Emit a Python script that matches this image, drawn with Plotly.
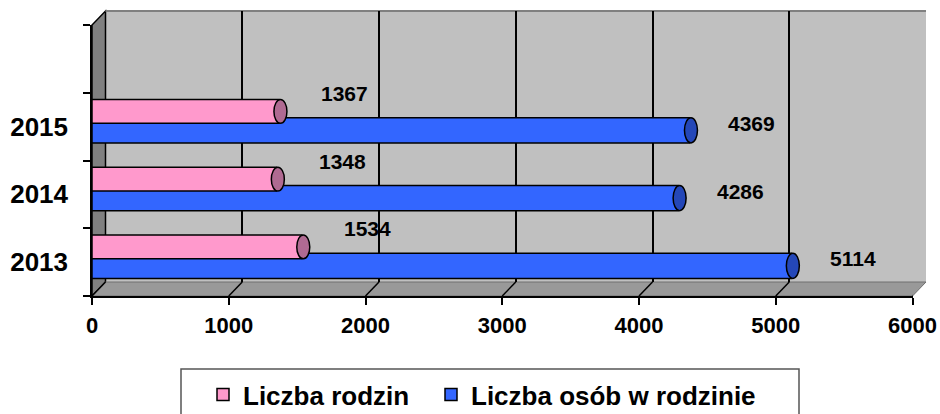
import plotly.graph_objects as go

# ---- data ----
years = ["2013", "2014", "2015"]
rodziny = [1534, 1348, 1367]          # Liczba rodzin (pink)
osoby = [5114, 4286, 4369]            # Liczba osób w rodzinie (blue)
x_ticks = [0, 1000, 2000, 3000, 4000, 5000, 6000]
series_names = ["Liczba rodzin", "Liczba osób w rodzinie"]

# ---- styling / geometry ----
FONT = "Liberation Sans, Arial, sans-serif"
PINK, PINK_CAP = "#FF99CC", "#B06A92"
BLUE, BLUE_CAP = "#3366FF", "#2447B8"
WALL, SIDE, FLOOR = "#C0C0C0", "#808080", "#999999"

ML, MR, MT, MB = 92, 14, 11, 118
W, H = 940, 414
PW, PH = W - ML - MR, H - MT - MB
DX, DY = 13.5, 14.0
fx, fy = DX / PW, DY / PH

ypos = list(range(len(years)))
BLUE_OFF, BLUE_W = -0.24, 0.37
PINK_OFF, PINK_W = 0.05, 0.35

fig = go.Figure()

# dummy trace so the back-wall subplot exists
fig.add_trace(go.Scatter(x=[None], y=[None], xaxis="x", yaxis="y",
                         showlegend=False, hoverinfo="skip"))

fig.add_trace(go.Bar(
    y=ypos, x=osoby, orientation="h", name=series_names[1],
    xaxis="x2", yaxis="y2", offset=BLUE_OFF, width=BLUE_W,
    marker=dict(color=BLUE, line=dict(color="black", width=1.5)),
    legend="legend2",
))
fig.add_trace(go.Bar(
    y=ypos, x=rodziny, orientation="h", name=series_names[0],
    xaxis="x2", yaxis="y2", offset=PINK_OFF, width=PINK_W,
    marker=dict(color=PINK, line=dict(color="black", width=1.5)),
    legend="legend",
))

shapes = []
# walls (paper coords)
shapes.append(dict(type="rect", xref="paper", yref="paper", x0=fx, x1=1, y0=fy, y1=1,
                   fillcolor=WALL, line=dict(width=0), layer="below"))
shapes.append(dict(type="path", xref="paper", yref="paper",
                   path=f"M0,0 L{fx},{fy} L{fx},1 L0,{1-fy} Z",
                   fillcolor=SIDE, line=dict(color="black", width=1.5), layer="below"))
shapes.append(dict(type="path", xref="paper", yref="paper",
                   path=f"M0,0 L{1-fx},0 L1,{fy} L{fx},{fy} Z",
                   fillcolor=FLOOR, line=dict(color="#707070", width=1), layer="below"))
# back wall top edge
shapes.append(dict(type="line", xref="paper", yref="paper", x0=fx, x1=1, y0=1, y1=1,
                   line=dict(color="#808080", width=2), layer="below"))
# legend frame
LEG_L, LEG_R, LEG_T = 181, 799, 369
shapes.append(dict(type="rect", xref="paper", yref="paper",
                   x0=(LEG_L - ML) / PW, x1=(LEG_R - ML) / PW,
                   y0=-(H + 10 - (MT + PH)) / PH, y1=-(LEG_T - (MT + PH)) / PH,
                   fillcolor="white", line=dict(color="#555555", width=1.5), layer="below"))
# floor diagonals at each tick
for v in x_ticks:
    shapes.append(dict(type="line", xref="x2", yref="paper", xsizemode="pixel",
                       ysizemode="pixel", xanchor=v, yanchor=0, x0=0, x1=DX, y0=0, y1=DY,
                       line=dict(color="black", width=1.5)))
# cylinder caps
for i in ypos:
    shapes.append(dict(type="circle", xref="x2", yref="y2", xsizemode="pixel",
                       xanchor=osoby[i], x0=-5, x1=8,
                       y0=i + BLUE_OFF, y1=i + BLUE_OFF + BLUE_W,
                       fillcolor=BLUE_CAP, line=dict(color="black", width=1.5)))
for i in ypos:
    shapes.append(dict(type="circle", xref="x2", yref="y2", xsizemode="pixel",
                       xanchor=rodziny[i], x0=-5, x1=8,
                       y0=i + PINK_OFF, y1=i + PINK_OFF + PINK_W,
                       fillcolor=PINK_CAP, line=dict(color="black", width=1.5)))

annotations = []
lab_font = dict(family=FONT, size=21, color="black", weight="bold")
for i in ypos:
    annotations.append(dict(x=rodziny[i], y=i + PINK_OFF + PINK_W / 2, xref="x2", yref="y2",
                            text=str(rodziny[i]), showarrow=False, xanchor="center",
                            xshift=66, yshift=18, font=lab_font))
    annotations.append(dict(x=osoby[i], y=i + BLUE_OFF + BLUE_W / 2, xref="x2", yref="y2",
                            text=str(osoby[i]), showarrow=False, xanchor="center",
                            xshift=62, yshift=7, font=lab_font))

leg_font = dict(family=FONT, size=26, color="black", weight="bold")
leg_y = -(371 - (MT + PH)) / PH

fig.update_layout(
    width=W, height=H,
    margin=dict(l=ML, r=MR, t=MT, b=MB, pad=0, autoexpand=False),
    paper_bgcolor="white", plot_bgcolor="rgba(0,0,0,0)",
    barmode="overlay",
    font=dict(family=FONT, color="black"),
    xaxis=dict(domain=[fx, 1], anchor="y", range=[0, 6000], tickvals=x_ticks,
               showgrid=True, gridcolor="black", gridwidth=1.5, zeroline=False,
               showticklabels=False, ticks="", showline=False, automargin=False),
    yaxis=dict(domain=[fy, 1], anchor="x", range=[0, 1], showgrid=False,
               zeroline=False, showticklabels=False, ticks="", showline=False,
               automargin=False),
    xaxis2=dict(domain=[0, 1 - fx], anchor="y2", range=[0, 6000], tickvals=x_ticks,
                showgrid=False, zeroline=False, showline=True, linecolor="black",
                linewidth=1.5, ticks="outside", ticklen=7, tickcolor="black",
                tickwidth=1.5, ticklabelstandoff=2, automargin=False,
                tickfont=dict(family=FONT, size=22, color="black", weight="bold")),
    yaxis2=dict(domain=[0, 1 - fy], anchor="x2", range=[-0.5, 3.5],
                tickvals=ypos, ticktext=years, ticks="", showgrid=False,
                zeroline=False, showline=True, linecolor="black", linewidth=1.5,
                ticklabelstandoff=17, automargin=False,
                minor=dict(tickvals=[-0.5, 0.5, 1.5, 2.5, 3.5], ticks="outside",
                           ticklen=7, tickcolor="black", tickwidth=1.5, showgrid=False),
                tickfont=dict(family=FONT, size=26, color="black", weight="bold")),
    legend=dict(orientation="h", x=(203 - ML) / PW, xanchor="left",
                y=leg_y, yanchor="top",
                bgcolor="rgba(0,0,0,0)", borderwidth=0, font=leg_font),
    legend2=dict(orientation="h", x=(431 - ML) / PW, xanchor="left",
                 y=leg_y, yanchor="top",
                 bgcolor="rgba(0,0,0,0)", borderwidth=0, font=leg_font),
    shapes=shapes, annotations=annotations,
    showlegend=True,
)

fig.write_html("out.html", config={"displayModeBar": False},
               post_script="document.body.style.margin='0';document.body.style.padding='0';")
